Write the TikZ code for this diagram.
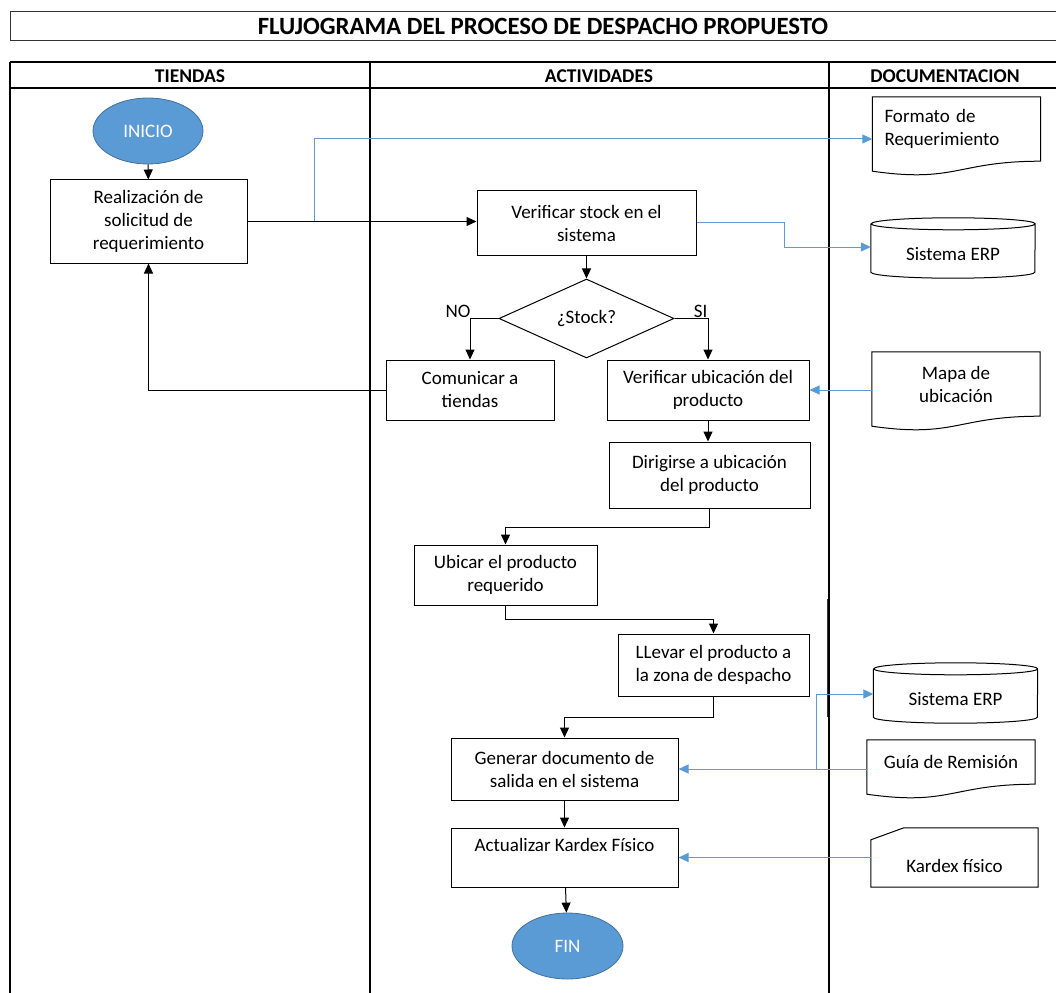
\documentclass[tikz,border=0pt]{standalone}
\usepackage{fontspec}
\setmainfont{Carlito}
\usetikzlibrary{arrows.meta,calc,shapes.geometric}
\definecolor{officeblue}{HTML}{5B9BD5}
\definecolor{officeedge}{HTML}{41719C}

\begin{document}
\begin{tikzpicture}[x=1pt,y=-1pt,
  font=\fontsize{19}{23}\selectfont,
  every node/.style={inner sep=0pt},
  activity/.style={rectangle,draw,line width=1pt,align=center},
  terminal/.style={ellipse,draw=officeedge,fill=officeblue,text=white,line width=0.8pt,minimum width=110pt,minimum height=66pt},
  docnode/.style={minimum width=168pt,minimum height=64pt,align=center},
  dbnode/.style={minimum width=164pt,minimum height=48pt},
  header/.style={font=\fontsize{19.5}{23}\selectfont\bfseries},
  flow/.style={-{Triangle[length=10pt,width=9pt]},line width=1pt},
  docflow/.style={flow,draw=officeblue}]

  \clip (0,0) rectangle (1056,992);

  % title and lanes
  \node (title) [font=\fontsize{24.8}{29}\selectfont\bfseries] at (543,26) {FLUJOGRAMA DEL PROCESO DE DESPACHO PROPUESTO};
  \draw[line width=0.8pt,black!80] (10,11) rectangle (1070,40);
  \draw[line width=1.6pt] (10,62) -- (1070,62) (10,88) -- (1070,88);
  \draw[line width=1.3pt] (10,62) -- (10,1000) (370,62) -- (370,1000) (829,62) -- (829,1000);
  \draw[line width=1.5pt,black!80] (827.5,599) -- (827.5,717);
  \node[header] (tiendas) at (190,76) {TIENDAS};
  \node[header] (actividades) at (599,76) {ACTIVIDADES};
  \node[header] (documentacion) at (945,76) {DOCUMENTACION};

  % activities
  \node[terminal] (inicio) at (148,131) {INICIO};
  \node[activity,minimum width=197pt,minimum height=83pt] (solicitud) at (148.5,221.5) {Realización de\\solicitud de\\requerimiento};
  \node[activity,minimum width=219pt,minimum height=64pt] (verstock) at (586.5,223) {Verificar stock en el\\sistema};
  \node[diamond,draw,line width=1pt,minimum width=175pt,minimum height=79pt,aspect=2.2] (stockq) at (586.5,318.5) {¿Stock?};
  \node[activity,minimum width=168pt,minimum height=60pt] (comunicar) at (470,390) {Comunicar a\\tiendas};
  \node[activity,minimum width=202pt,minimum height=60pt] (verubic) at (708,390) {Verificar ubicación del\\producto};
  \node[activity,minimum width=201pt,minimum height=66pt] (dirigir) at (709.5,475) {Dirigirse a ubicación\\del producto};
  \node[activity,minimum width=183pt,minimum height=60pt] (ubicar) at (505.5,575) {Ubicar el producto\\requerido};
  \node[activity,minimum width=191pt,minimum height=62pt] (llevar) at (713.5,665) {LLevar el producto a\\la zona de despacho};
  \node[activity,minimum width=227pt,minimum height=62pt] (generar) at (564.5,769) {Generar documento de\\salida en el sistema};
  \node[activity,minimum width=227pt,minimum height=59pt,text depth=26pt] (actualizar) at (564.5,857.5) {Actualizar Kardex Físico};
  \node[terminal,minimum width=111pt] (fin) at (567.5,946) {FIN};

  % documents
  \node[docnode,align=left,text width=144pt] (formato) at (956.5,129) {Formato de\\Requerimiento};
  \node[dbnode] (erpa) at (953,254) {Sistema ERP};
  \node[docnode] (mapa) at (956,384) {Mapa de\\ubicación};
  \node[dbnode] (erpb) at (955.5,699) {Sistema ERP};
  \node[docnode,minimum height=44pt] (guia) at (951,762) {Guía de Remisión};
  \node[minimum width=167pt,minimum height=42pt] (kardex) at (954.5,866) {Kardex físico};

  \foreach \d in {formato,mapa,guia}
    \draw[line width=1pt] (\d.north west) -- (\d.north east) -- (\d.south east)
      .. controls ([xshift=-84pt]\d.south east) and ([xshift=84pt,yshift=-22pt]\d.south west) .. ([yshift=-10pt]\d.south west) -- cycle;
  \foreach \c in {erpa,erpb}
    \draw[line width=1pt] ([yshift=6pt]\c.north west) -- ([yshift=6pt]\c.south west)
      arc[start angle=180,end angle=360,x radius=82pt,y radius=6pt] -- ([yshift=6pt]\c.north east)
      arc[start angle=0,end angle=180,x radius=82pt,y radius=6pt]
      arc[start angle=180,end angle=360,x radius=82pt,y radius=6pt];
  \draw[line width=1pt] ([yshift=5pt]kardex.north west) -- ([xshift=33pt,yshift=17pt]kardex.north west)
    -- ([yshift=17pt]kardex.north east) -- (kardex.south east) -- (kardex.south west) -- cycle;

  % connectors
  \draw[flow] (inicio) -- (solicitud);
  \draw[docflow] (solicitud.east) -- ++(67,0) |- ([yshift=-10pt]formato.west);
  \draw[flow] (solicitud.east) -- (solicitud.east -| verstock.west);
  \draw[flow] (verstock) -- (stockq);
  \draw[docflow] (verstock.east) -- ++(88,0) |- ([yshift=7pt]erpa.west);
  \draw[flow] (stockq.west) -| (comunicar.north) node[pos=0.5,anchor=south east,xshift=1pt] {NO};
  \draw[flow] (stockq.east) -| (verubic.north) node[pos=0.5,anchor=south east] {SI};
  \draw[flow] (comunicar.west) -| (solicitud.south);
  \draw[docflow] (mapa.west |- verubic.east) -- (verubic.east);
  \draw[flow] (verubic.south) -- (verubic.south |- dirigir.north);
  \draw[flow] (dirigir.south) -- ++(0,19) -| (ubicar.north);
  \draw[flow] (ubicar.south) -- ++(0,14) -| (llevar.north);
  \draw[flow] (llevar.south) -- ++(0,21) -| (generar.north);
  \draw[flow] (generar) -- (actualizar);
  \draw[flow] (actualizar) -- (fin);
  \draw[docflow] (generar.east -| guia.west) -- (generar.east);
  \draw[docflow] ([xshift=138pt]generar.east) |- ([yshift=5pt]erpb.west);
  \draw[docflow] (actualizar.east -| kardex.west) -- (actualizar.east);
\end{tikzpicture}
\end{document}
